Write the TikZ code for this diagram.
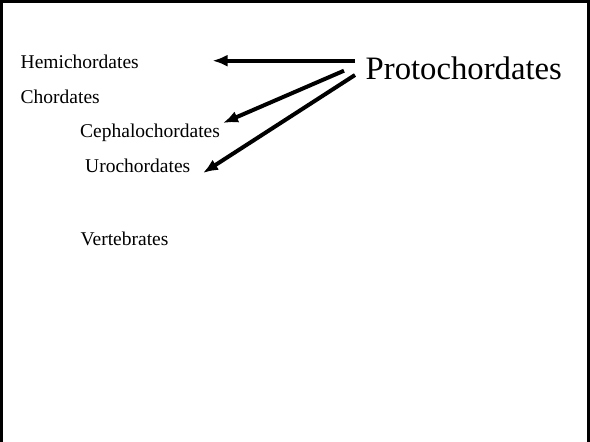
\documentclass[tikz,border=0pt]{standalone}
\usepackage{fontspec}
\setmainfont{Liberation Serif}
\usetikzlibrary{arrows.meta}
\tikzset{>={Latex[length=15pt,width=12pt]}}
\tikzset{taxon/.style={anchor=base west, inner sep=0pt, font=\fontsize{19.5}{23}\selectfont}}

\begin{document}
\begin{tikzpicture}[x=1pt, y=-1pt]
    \useasboundingbox(0, 0) rectangle (590, 442);
    \draw[line width=3pt](1.5, 442)--(1.5, 1.5)--(588.5, 1.5)--(588.5, 442);
    \node[taxon](hemi) at (20.5, 68.3){Hemichordates};
    \node[taxon](chord) at (20.5, 103.3){Chordates};
    \node[taxon](cephalo) at (80, 137.5){Cephalochordates};
    \node[taxon](uro) at (85, 172.5){Urochordates};
    \node[taxon](verte) at (80.5, 245){Vertebrates};
    \node[anchor=base west, inner sep=0pt, font=\fontsize{32.7}{38}\selectfont](proto) at (365.5, 79.3){Protochordates};
    % arrows from the label
    \coordinate(s1) at (355, 60.7);
    \coordinate(s2) at (344, 70.7);
    \coordinate(s3) at (355, 75);
    \coordinate(t1) at (212.5, 60.7);
    \coordinate(t2) at (223, 123);
    \coordinate(t3) at (203, 173);
    \draw[->, line width=4pt](s1)--(t1);
    \draw[->, line width=4pt](s2)--(t2);
    \draw[->, line width=4pt](s3)--(t3);
\end{tikzpicture}
\end{document}
